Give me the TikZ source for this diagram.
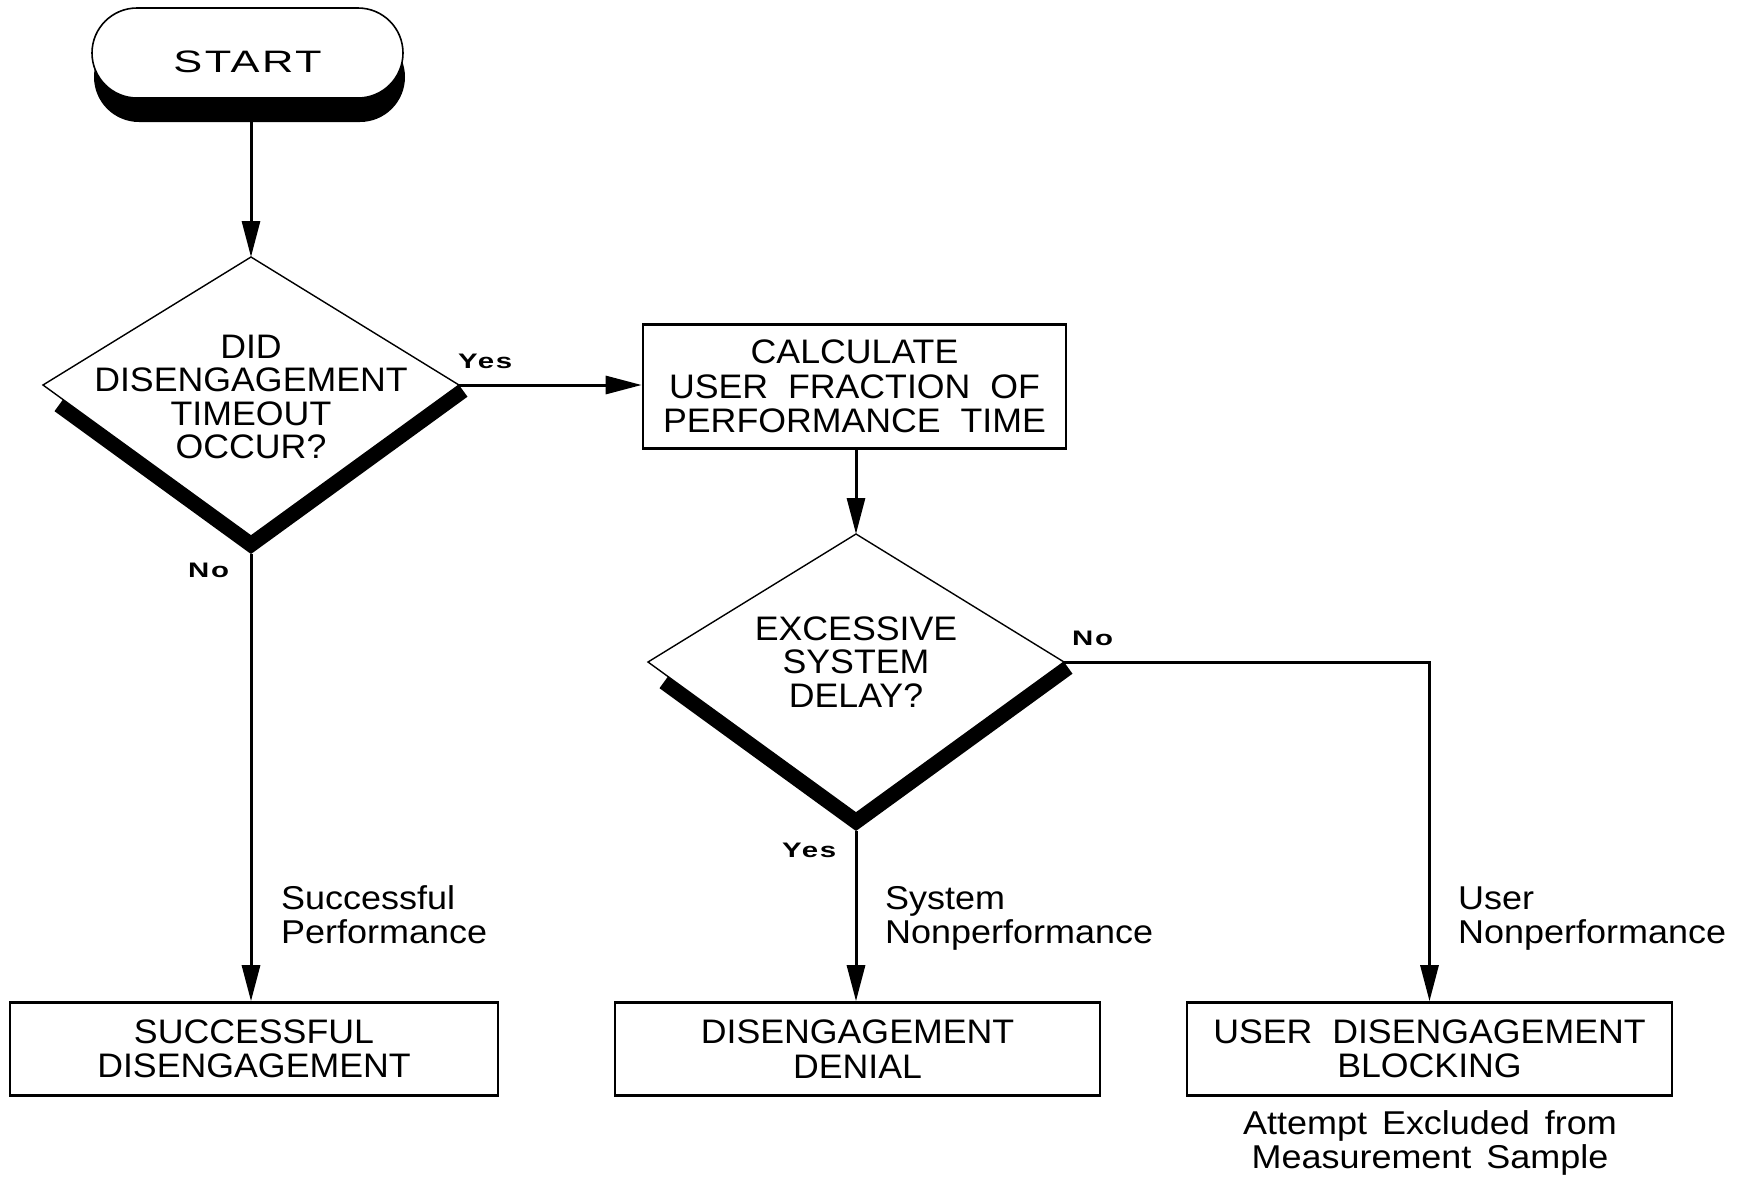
\documentclass[tikz,border=0pt]{standalone}
\usepackage{fontspec}
\setmainfont{Liberation Sans}[FakeStretch=1.05,WordSpace=2]
\newfontfamily\lblfont{Liberation Sans}[FakeStretch=1.09,WordSpace=1.5]
\newfontfamily\tagfont{Liberation Sans}[FakeStretch=1.4,LetterSpace=8]
\usetikzlibrary{arrows.meta,calc}

\begin{document}
\begin{tikzpicture}[x=1pt,y=-1pt,line join=miter,
  conn/.style={line width=3pt},
  arr/.style={conn,-{Triangle[length=36pt,width=18pt]}},
  procbox/.style={draw,line width=2.6pt,inner sep=0pt,align=center,
    font=\fontsize{34}{34.5}\selectfont},
  dtext/.style={align=center,inner sep=0pt,font=\fontsize{34}{33.5}\selectfont},
  edgetag/.style={inner sep=0pt,font=\tagfont\bfseries\fontsize{21}{22}\selectfont},
  outcome/.style={inner sep=0pt,align=left,font=\lblfont\fontsize{33}{34}\selectfont},
  decision/.style={line width=1.4pt,fill=white},
]
\fill[white] (0,0) rectangle (1741,1176);
\path[use as bounding box] (0,0) rectangle (1741,1176);

% terminal with drop shadow
\fill[rounded corners=45pt] (94,32) rectangle (405,122);
\node[draw,fill=white,line width=1.6pt,rounded corners=45pt,
      minimum width=311pt,minimum height=90pt,inner sep=0pt,
      text height=38pt,text depth=0pt,
      font=\tagfont\fontsize{31}{31}\selectfont] (start) at (247.5,53) {START};

% first decision
\begin{scope}[shift={(251,385)}]
  \fill (-188,14.5) -- (0,151) -- (208,0) -- (216.5,11.7) -- (0,169) -- (-196.5,26.2) -- cycle;
  \draw[decision] (0,-128) coordinate (d1n) -- (208,0) coordinate (d1e)
        -- (0,151) -- (-208,0) -- cycle;
  \coordinate (d1s) at (0,169);
\end{scope}
\node[dtext] (d1t) at (251,397) {DID\\DISENGAGEMENT\\TIMEOUT\\OCCUR?};

% process box
\node[procbox,minimum width=423pt,minimum height=124pt] (frac) at (854.5,386.5)
  {CALCULATE\\USER FRACTION OF\\PERFORMANCE TIME};

% second decision
\begin{scope}[shift={(856,662)}]
  \fill (-188,14.5) -- (0,151) -- (208,0) -- (216.5,11.7) -- (0,169) -- (-196.5,26.2) -- cycle;
  \draw[decision] (0,-128) coordinate (d2n) -- (208,0) coordinate (d2e)
        -- (0,151) -- (-208,0) -- cycle;
  \coordinate (d2s) at (0,169);
\end{scope}
\node[dtext] (d2t) at (856,662) {EXCESSIVE\\SYSTEM\\DELAY?};

% outcomes
\node[procbox,minimum width=488pt,minimum height=93pt] (succ) at (254,1049)
  {SUCCESSFUL\\DISENGAGEMENT};
\node[procbox,minimum width=485pt,minimum height=93pt] (deny) at (857.5,1049)
  {DISENGAGEMENT\\DENIAL};
\node[procbox,minimum width=485pt,minimum height=93pt] (user) at (1429.5,1049)
  {USER DISENGAGEMENT\\BLOCKING};

% connectors
\draw[arr] (start.south -| d1n) -- (d1n);
\draw[arr] (d1e) -- (d1e -| frac.west);
\draw[arr] (frac.south -| d2n) -- (d2n);
\draw[arr] (d1s) -- (d1s |- succ.north);
\draw[arr] (d2s) -- (d2s |- deny.north);
\draw[arr] (d2e) -- (d2e -| user.north) -- (user.north);

% branch tags
\node[edgetag,anchor=base west] (yes1) at (458,368) {Yes};
\node[edgetag,anchor=base west] (no1) at (188,577) {No};
\node[edgetag,anchor=base west] (no2) at (1072,645) {No};
\node[edgetag,anchor=base west] (yes2) at (782,857) {Yes};

% outcome annotations (base = last line)
\node[outcome,anchor=base west] (lsucc) at (281,943) {Successful\\Performance};
\node[outcome,anchor=base west] (lsys) at (885,943) {System\\Nonperformance};
\node[outcome,anchor=base west] (lusr) at (1458,943) {User\\Nonperformance};
\node[outcome,align=center,anchor=base] (excl) at (1430,1168)
  {Attempt Excluded from\\Measurement Sample};
\end{tikzpicture}
\end{document}
